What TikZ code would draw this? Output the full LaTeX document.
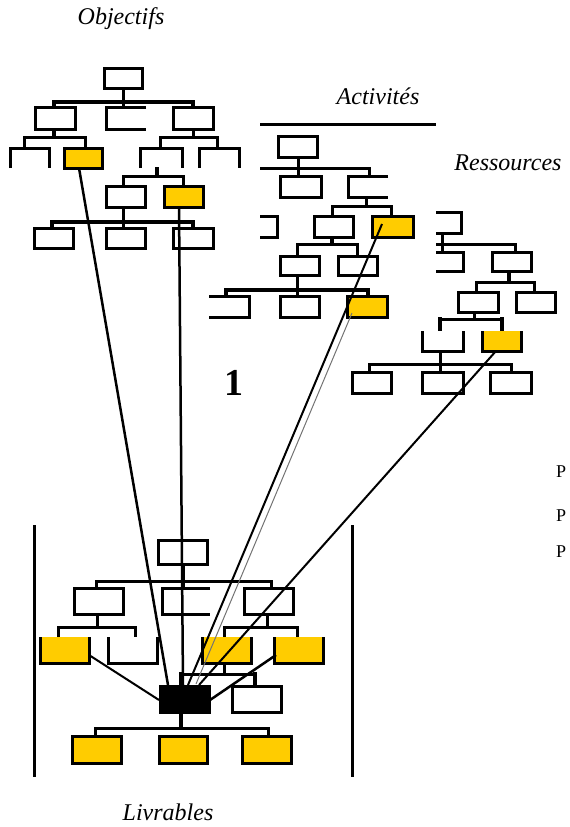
\documentclass[tikz,border=0pt]{standalone}
\usepackage{fontspec}
\setmainfont{Liberation Serif}
\usetikzlibrary{calc}
\definecolor{jaune}{RGB}{255,204,0}
\tikzset{trait/.style={line width=3pt}, barre/.style={line width=4.5pt}, lien/.style={line width=2.5pt},
  titre/.style={font=\fontsize{24}{28}\selectfont\itshape, inner sep=0pt},
  lettre/.style={font=\fontsize{18}{20}\selectfont, inner sep=0pt, anchor=west}}
\def\boite[#1](#2,#3)(#4,#5){\draw[trait,#1] (#2,#3) rectangle (#4,#5);}
\def\ouvertD(#1,#2)(#3,#4){\draw[trait] (#3,#2) -- (#1,#2) -- (#1,#4) -- (#3,#4);}
\def\ouvertG(#1,#2)(#3,#4){\draw[trait] (#1,#2) -- (#3,#2) -- (#3,#4) -- (#1,#4);}
\def\ouvertB(#1,#2)(#3,#4){\draw[trait] (#1,#4) -- (#1,#2) -- (#3,#2) -- (#3,#4);}
\def\ouvertH(#1,#2)(#3,#4){\draw[trait] (#1,#2) -- (#1,#4) -- (#3,#4) -- (#3,#2);}

\begin{document}
\begin{tikzpicture}[x=1pt,y=-1pt]
			%%%%% START %%%%%
			\useasboundingbox (0,0) rectangle (570,827);
			
			\node[titre] (objectifs) at (121,19) {Objectifs};
			\node[titre] (activites) at (378,96) {Activités};
			\node[titre] (ressources) at (508,163) {Ressources};
			\node[titre] (livrables) at (168,812) {Livrables};
			\node[font=\fontsize{38}{40}\selectfont\bfseries, inner sep=0pt] (un) at (234,383) {1};
			\node[lettre] (p1) at (556,472) {P};
			\node[lettre] (p2) at (556,516) {P};
			\node[lettre] (p3) at (556,552) {P};
			
			% objectifs
			\boite[](104,68)(142,88);
			\draw[trait] (123,88) -- (123,102);
			\draw[barre] (54,108) -- (54,102) -- (193,102) -- (193,108);
			\draw[trait] (123,102) -- (123,108);
			\boite[](35,107)(75,129);
			\ouvertD(106,107)(146,129);
			\boite[](173,107)(213,129);
			\draw[barre] (54,129) -- (54,137);
			\draw[trait] (24,149) -- (24,137) -- (85,137) -- (85,149);
			\ouvertB(10,148)(49,168);
			\boite[fill=jaune](64,148)(102,168);
			\draw[trait] (193,129) -- (193,137);
			\draw[trait] (160,149) -- (160,137) -- (217,137) -- (217,149);
			\ouvertB(140,148)(182,168);
			\ouvertB(199,148)(239,168);
			\draw[barre] (157,167) -- (157,176);
			\draw[trait] (123,187) -- (123,176) -- (183,176) -- (183,187);
			\boite[](106,186)(145,207);
			\boite[fill=jaune](164,186)(203,207);
			\draw[trait] (123,207) -- (123,222);
			\draw[barre] (52,229) -- (52,222) -- (193,222) -- (193,229);
			\draw[trait] (123,222) -- (123,229);
			\boite[](34,228)(73,248);
			\boite[](106,228)(145,248);
			\boite[](173,228)(213,248);
			
			% activites
			\draw[trait] (260,124) -- (436,124);
			\boite[](278,136)(317,157);
			\draw[trait] (298,157) -- (298,177);
			\draw[trait] (260,168) -- (369,168) -- (369,177);
			\boite[](280,176)(321,197);
			\ouvertD(348,176)(388,197);
			\draw[trait] (366,197) -- (366,206);
			\draw[trait] (332,217) -- (332,206) -- (391,206) -- (391,217);
			\ouvertG(260,216)(277,237);
			\boite[](314,216)(353,237);
			\boite[fill=jaune](372,216)(413,237);
			\draw[barre] (332,237) -- (332,244);
			\draw[trait] (297,257) -- (297,244) -- (357,244) -- (357,257);
			\boite[](280,256)(319,275);
			\boite[](338,256)(377,275);
			\draw[trait] (297,275) -- (297,297);
			\draw[barre] (226,297) -- (226,290) -- (368,290) -- (368,297);
			\ouvertG(209,296)(249,317);
			\boite[](280,296)(319,317);
			\boite[fill=jaune](347,296)(387,317);
			
			% ressources
			\ouvertG(436,212)(461,233);
			\draw[trait] (442,233) -- (442,252);
			\draw[trait] (436,244) -- (515,244) -- (515,253);
			\ouvertG(436,252)(463,271);
			\boite[](492,252)(531,271);
			\draw[barre] (509,271) -- (509,282);
			\draw[trait] (476,293) -- (476,282) -- (534,282) -- (534,293);
			\boite[](458,292)(498,312);
			\boite[](516,292)(555,312);
			\draw[trait] (474,312) -- (474,319);
			\draw[trait] (440,319) -- (502,319);
			\draw[barre] (440,317) -- (440,331);
			\draw[barre] (502,317) -- (502,331);
			\ouvertH(422,331)(463,351);
			\fill[jaune] (482,331) rectangle (521,351);
			\ouvertH(482,331)(521,351);
			\draw[trait] (440,351) -- (440,364);
			\draw[trait] (369,373) -- (369,364) -- (511,364) -- (511,373);
			\draw[trait] (440,364) -- (440,373);
			\boite[](352,372)(391,393);
			\boite[](422,372)(463,393);
			\boite[](490,372)(531,393);
			
			% livrables
			\draw[trait] (34,525) -- (34,777);
			\draw[trait] (352,525) -- (352,777);
			\boite[](158,540)(207,564);
			\draw[trait] (183,564) -- (183,589);
			\draw[trait] (96,589) -- (96,581) -- (271,581) -- (271,589);
			\boite[](74,588)(123,614);
			\ouvertD(162,588)(210,614);
			\boite[](244,588)(293,614);
			\draw[trait] (97,614) -- (97,627);
			\draw[trait] (58,637) -- (58,627) -- (135,627) -- (135,637);
			\fill[jaune] (40,637) rectangle (89,663);
			\ouvertH(40,637)(89,663);
			\ouvertH(108,637)(157,663);
			\draw[trait] (267,614) -- (267,627);
			\draw[trait] (224,637) -- (224,627) -- (297,627) -- (297,637);
			\fill[jaune] (202,637) rectangle (251,663);
			\ouvertH(202,637)(251,663);
			\fill[jaune] (274,637) rectangle (323,663);
			\ouvertH(274,637)(323,663);
			\draw[trait] (224,663) -- (224,674);
			\draw[trait] (181,674) -- (255,674);
			\draw[barre] (181,672) -- (181,686);
			\draw[barre] (255,672) -- (255,686);
			\draw[fill=black] (159,685) rectangle (210,713);
			\boite[](232,686)(281,712);
			\draw[barre] (181,713) -- (181,728);
			\draw[trait] (95,737) -- (95,728) -- (268,728) -- (268,737);
			\boite[fill=jaune](72,736)(121,763);
			\boite[fill=jaune](159,736)(207,763);
			\boite[fill=jaune](242,736)(291,763);
			
			% liens
			\coordinate (o1) at (79,168);
			\coordinate (o2) at (179,207);
			\coordinate (a1) at (382,224);
			\coordinate (a2) at (352,313);
			\coordinate (r1) at (496,351);
			\coordinate (l1) at (89,655);
			\coordinate (l2) at (276,655);
			\coordinate (n1) at (168,685);
			\coordinate (n2) at (183,685);
			\coordinate (n3) at (188,685);
			\coordinate (n4) at (196,684);
			\coordinate (n5) at (199,685);
			\coordinate (n6) at (159,700);
			\coordinate (n7) at (210,700);
			\draw[lien] (o1) -- (n1);
			\draw[lien] (o2) -- (n2);
			\draw[line width=2pt] (a1) -- (n3);
			\draw[line width=1pt, color=black!55] (a2) -- (n4);
			\draw[line width=2pt] (r1) -- (n5);
			\draw[line width=2pt] (l1) -- (n6);
			\draw[line width=2.5pt] (l2) -- (n7);
			
			%%%%% END %%%%%
		\end{tikzpicture}
\end{document}
